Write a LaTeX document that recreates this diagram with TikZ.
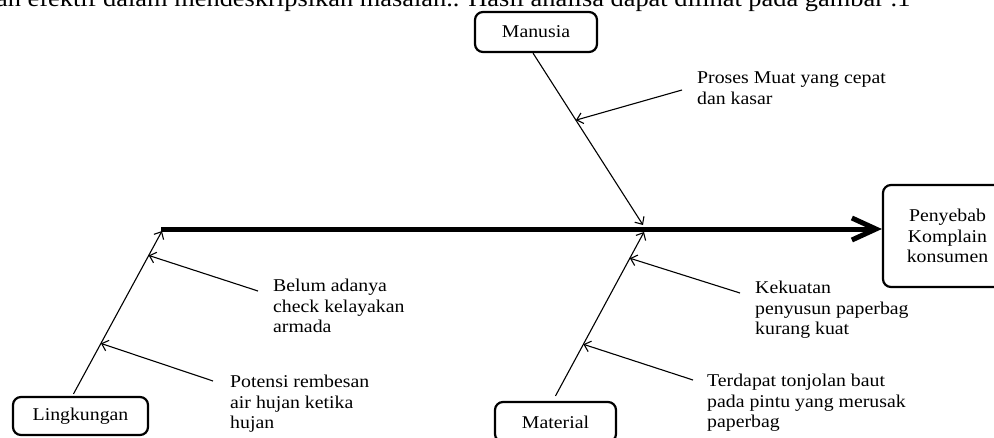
\documentclass[tikz,border=0pt]{standalone}
\usepackage{fontspec}
\setmainfont{Liberation Serif}[FakeStretch=1.1]
\usetikzlibrary{arrows.meta,calc,positioning}

\begin{document}
\begin{tikzpicture}[x=1pt, y=-1pt,
    kotak/.style={rectangle, draw, rounded corners=8pt, line width=2.2pt, inner sep=0pt, align=center, font=\fontsize{18}{20.5}\selectfont},
    tulang/.style={line width=1.1pt, -{Straight Barb[length=6pt,width=11pt]}},
    ket/.style={anchor=north west, inner sep=0pt, align=left, font=\fontsize{18}{20.5}\selectfont}]
    \clip (0,0) rectangle (994,437);

    % Teks paragraf (terpotong)
    \node[anchor=base west, inner sep=0pt, font=\fontsize{24}{28}\selectfont] (para) at (-4,6) {an efektif dalam mendeskripsikan masalah.. Hasil analisa dapat dilihat pada gambar .1};

    % Kotak kategori
    \node[kotak, minimum width=122pt, minimum height=40pt] (manusia) at (536,32) {Manusia};
    \node[kotak, minimum width=135pt, minimum height=38pt] (lingk) at (80.5,416) {Lingkungan};
    \node[kotak, minimum width=121pt, minimum height=40pt] (material) at (555.5,422) {Material};
    \node[kotak, minimum width=129pt, minimum height=102pt] (akibat) at (947.5,236) {Penyebab\\Komplain\\konsumen};

    % Tulang utama
    \coordinate (ekor) at (161,229);
    \draw[line width=5pt, -{Straight Barb[length=24pt,width=22pt]}] (ekor) -- (ekor -| akibat.west);

    % Tulang cabang
    \coordinate (mb) at ([xshift=-3pt]manusia.south);
    \coordinate (mt) at (643,225);
    \coordinate (lb) at ([xshift=-7pt, yshift=2pt]lingk.north);
    \coordinate (lt) at (162,231);
    \coordinate (tb) at ([yshift=5pt]material.north);
    \coordinate (tt) at (644,232);
    \draw[tulang] (mb) -- (mt);
    \draw[tulang] (lb) -- (lt);
    \draw[tulang] (tb) -- (tt);

    % Keterangan penyebab
    \node[ket] (k1) at (697,72) {Proses Muat yang cepat\\dan kasar};
    \node[ket] (k2) at (273,279) {Belum adanya\\check kelayakan\\armada};
    \node[ket] (k3) at (230,375) {Potensi rembesan\\air hujan ketika\\hujan};
    \node[ket] (k4) at (755,281) {Kekuatan\\penyusun paperbag\\kurang kuat};
    \node[ket] (k5) at (707,374) {Terdapat tonjolan baut\\pada pintu yang merusak\\paperbag};

    % Panah ke tulang
    \draw[tulang] ($(k1.north west)+(-15,18)$) -- ($(mb)!0.39!(mt)$);
    \draw[tulang] ($(k2.north west)+(-15,12)$) -- ($(lb)!0.85!(lt)$);
    \draw[tulang] ($(k3.north west)+(-17,6)$) -- ($(lb)!0.31!(lt)$);
    \draw[tulang] ($(k4.north west)+(-15,12)$) -- ($(tb)!0.84!(tt)$);
    \draw[tulang] ($(k5.north west)+(-14,6)$) -- ($(tb)!0.315!(tt)$);
\end{tikzpicture}
\end{document}
